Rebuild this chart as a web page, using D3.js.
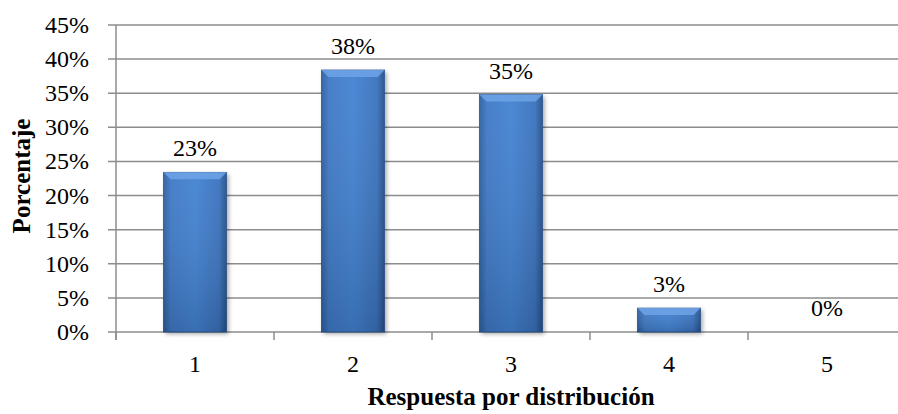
<!DOCTYPE html>
<html>
<head>
<meta charset="utf-8">
<script src="https://d3js.org/d3.v7.min.js"></script>
<style>
  body { margin: 0; background: #fff; }
  text { font-family: "Liberation Serif", "Times New Roman", serif; fill: #000; }
</style>
</head>
<body>
<div id="chart"></div>
<script>
// data
var categories = ["1", "2", "3", "4", "5"];
var values = [0.234, 0.384, 0.348, 0.035, 0];
var labels = ["23%", "38%", "35%", "3%", "0%"];
var yTicks = [0, 0.05, 0.10, 0.15, 0.20, 0.25, 0.30, 0.35, 0.40, 0.45];

var W = 898, H = 414;
var plotLeft = 116, plotRight = 906, plotTop = 25, plotBottom = 332;

var svg = d3.select("#chart").append("svg")
    .attr("width", W).attr("height", H);

var defs = svg.append("defs");
var grad = defs.append("linearGradient").attr("id", "barGrad")
    .attr("x1", "0").attr("x2", "1").attr("y1", "0").attr("y2", "0");
grad.append("stop").attr("offset", "0%").attr("stop-color", "#2d5f9f");
grad.append("stop").attr("offset", "12%").attr("stop-color", "#3f79c6");
grad.append("stop").attr("offset", "50%").attr("stop-color", "#4282d2");
grad.append("stop").attr("offset", "88%").attr("stop-color", "#3a72bd");
grad.append("stop").attr("offset", "100%").attr("stop-color", "#244f88");

var vgrad = defs.append("linearGradient").attr("id", "barShade")
    .attr("x1", "0").attr("x2", "0").attr("y1", "0").attr("y2", "1");
vgrad.append("stop").attr("offset", "0%").attr("stop-color", "#fff").attr("stop-opacity", 0.05);
vgrad.append("stop").attr("offset", "100%").attr("stop-color", "#000").attr("stop-opacity", 0.15);

var blur = defs.append("filter").attr("id", "shadow").attr("x", "-20%").attr("y", "-20%")
    .attr("width", "140%").attr("height", "140%");
blur.append("feGaussianBlur").attr("stdDeviation", 2);

var x = d3.scaleBand().domain(categories).range([plotLeft, plotRight])
    .paddingInner(0.6).paddingOuter(0.3);
var y = d3.scaleLinear().domain([0, 0.45]).range([plotBottom, plotTop]);

// gridlines
svg.append("g").selectAll("line").data(yTicks).enter().append("line")
    .attr("x1", plotLeft - 8).attr("x2", W)
    .attr("y1", function(d) { return y(d); })
    .attr("y2", function(d) { return y(d); })
    .attr("stroke", "#8c8c8c").attr("stroke-width", 1.5);

// y axis line
svg.append("line")
    .attr("x1", plotLeft).attr("x2", plotLeft)
    .attr("y1", plotTop).attr("y2", plotBottom + 8)
    .attr("stroke", "#8c8c8c").attr("stroke-width", 1.5);

// x category boundary ticks
var step = x.step();
svg.append("g").selectAll("line").data(d3.range(categories.length + 1)).enter().append("line")
    .attr("x1", function(i) { return plotLeft + i * step; })
    .attr("x2", function(i) { return plotLeft + i * step; })
    .attr("y1", plotBottom).attr("y2", plotBottom + 8)
    .attr("stroke", "#8c8c8c").attr("stroke-width", 1.5);

// y tick labels
svg.append("g").selectAll("text").data(yTicks).enter().append("text")
    .attr("x", 89)
    .attr("y", function(d) { return y(d) + 8; })
    .attr("text-anchor", "end")
    .style("font-size", "24px")
    .text(function(d) { return d3.format(".0%")(d); });

// bars
var bars = svg.append("g").selectAll("g").data(values).enter().append("g");

bars.filter(function(d) { return d > 0; }).append("rect")
    .attr("x", function(d, i) { return x(categories[i]) + 2; })
    .attr("y", function(d) { return y(d) + 2; })
    .attr("width", x.bandwidth())
    .attr("height", function(d) { return plotBottom - y(d); })
    .attr("fill", "#000").attr("opacity", 0.35)
    .attr("filter", "url(#shadow)");

bars.filter(function(d) { return d > 0; }).append("rect")
    .attr("x", function(d, i) { return x(categories[i]); })
    .attr("y", function(d) { return y(d); })
    .attr("width", x.bandwidth())
    .attr("height", function(d) { return plotBottom - y(d); })
    .attr("fill", "url(#barGrad)")
    .attr("stroke", "#2a5490").attr("stroke-width", 0.8);

bars.filter(function(d) { return d > 0; }).append("rect")
    .attr("x", function(d, i) { return x(categories[i]); })
    .attr("y", function(d) { return y(d); })
    .attr("width", x.bandwidth())
    .attr("height", function(d) { return plotBottom - y(d); })
    .attr("fill", "url(#barShade)");

// top bevel
bars.filter(function(d) { return d > 0; }).append("path")
    .attr("d", function(d, i) {
      var x0 = x(categories[i]), x1 = x0 + x.bandwidth(), t = y(d), b = 7;
      return "M" + x0 + "," + t + "L" + x1 + "," + t + "L" + (x1 - b) + "," + (t + b) +
             "L" + (x0 + b) + "," + (t + b) + "Z";
    })
    .attr("fill", "#6ea3e6").attr("opacity", 0.85);

// value labels
svg.append("g").selectAll("text").data(values).enter().append("text")
    .attr("x", function(d, i) { return x(categories[i]) + x.bandwidth() / 2; })
    .attr("y", function(d) { return y(d) - 16; })
    .attr("text-anchor", "middle")
    .style("font-size", "24px")
    .text(function(d, i) { return labels[i]; });

// category labels
svg.append("g").selectAll("text").data(categories).enter().append("text")
    .attr("x", function(d) { return x(d) + x.bandwidth() / 2; })
    .attr("y", 372)
    .attr("text-anchor", "middle")
    .style("font-size", "24px")
    .text(function(d) { return d; });

// axis titles
svg.append("text")
    .attr("x", 511).attr("y", 405)
    .attr("text-anchor", "middle")
    .style("font-size", "25px").style("font-weight", "bold")
    .text("Respuesta por distribución");

svg.append("text")
    .attr("transform", "translate(30," + 176 + ") rotate(-90)")
    .attr("text-anchor", "middle")
    .style("font-size", "25px").style("font-weight", "bold")
    .text("Porcentaje");
</script>
</body>
</html>
